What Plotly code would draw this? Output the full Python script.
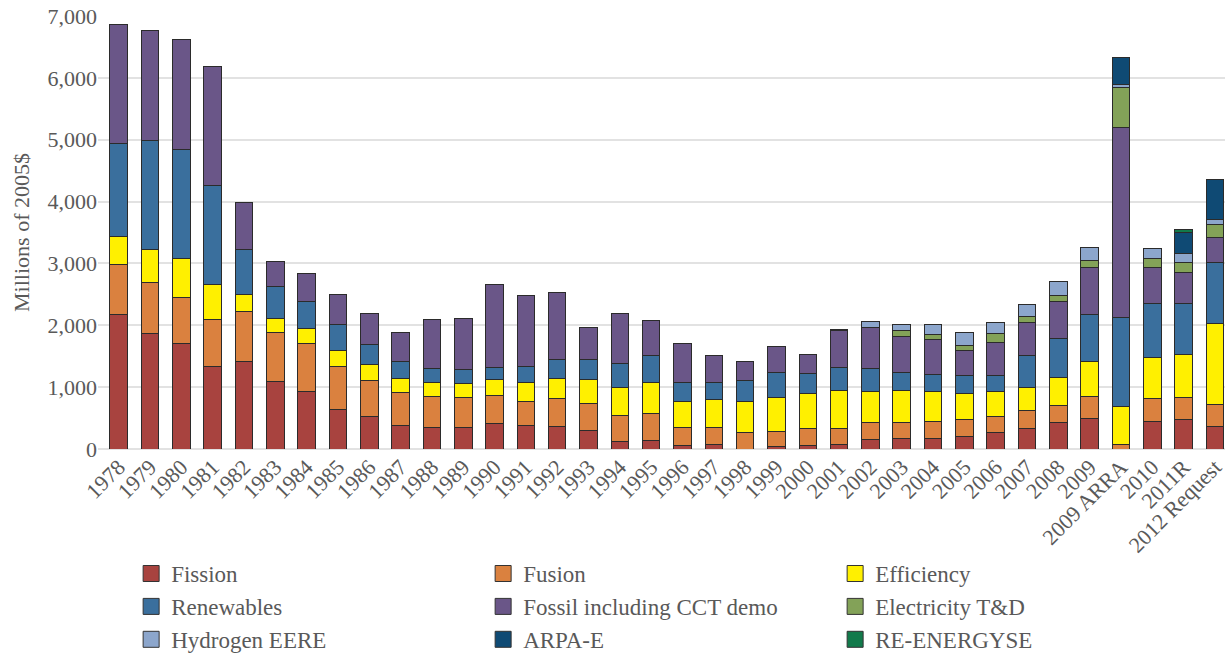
import plotly.graph_objects as go

years = ["1978", "1979", "1980", "1981", "1982", "1983", "1984", "1985", "1986", "1987",
         "1988", "1989", "1990", "1991", "1992", "1993", "1994", "1995", "1996", "1997",
         "1998", "1999", "2000", "2001", "2002", "2003", "2004", "2005", "2006", "2007",
         "2008", "2009", "2009 ARRA", "2010", "2011R", "2012 Request"]

fission = [2170, 1870, 1705, 1335, 1415, 1085, 930, 645, 530, 387,
           355, 340, 415, 380, 370, 305, 125, 140, 50, 70,
           0, 35, 55, 70, 155, 165, 175, 210, 265, 325,
           430, 495, 0, 445, 485, 365]
fusion = [820, 820, 750, 760, 805, 795, 780, 690, 570, 520,
          495, 495, 445, 390, 445, 430, 410, 430, 290, 275,
          263, 240, 270, 265, 270, 260, 265, 275, 265, 300,
          270, 355, 75, 375, 340, 355]
efficiency = [440, 530, 620, 565, 275, 225, 245, 265, 260, 230,
              225, 220, 260, 300, 320, 395, 465, 510, 430, 460,
              500, 565, 570, 615, 505, 515, 495, 415, 405, 375,
              460, 565, 605, 665, 695, 1305]
renewables = [1510, 1775, 1770, 1600, 730, 525, 430, 415, 335, 280,
              225, 230, 190, 270, 310, 320, 390, 435, 305, 275,
              345, 400, 325, 375, 375, 300, 270, 285, 260, 510,
              630, 760, 1440, 860, 825, 995]
fossil = [1920, 1775, 1780, 1925, 765, 395, 450, 480, 500, 465,
          790, 820, 1345, 1135, 1085, 515, 805, 560, 630, 425,
          310, 410, 315, 585, 665, 580, 560, 400, 530, 540,
          595, 765, 3070, 585, 510, 400]
electricity_td = [0, 0, 0, 0, 0, 0, 0, 0, 0, 0,
                  0, 0, 0, 0, 0, 0, 0, 0, 0, 0,
                  0, 0, 0, 0, 0, 90, 85, 90, 150, 85,
                  95, 115, 655, 155, 160, 210]
hydrogen = [0, 0, 0, 0, 0, 0, 0, 0, 0, 0,
            0, 0, 0, 0, 0, 0, 0, 0, 0, 0,
            0, 0, 0, 30, 90, 105, 160, 205, 165, 205,
            230, 195, 45, 155, 145, 85]
arpa_e = [0] * 32 + [440, 0, 340, 645]
re_energyse = [0] * 34 + [55, 0]

series = [
    ("Fission", fission, "#A8433F"),
    ("Fusion", fusion, "#DA813F"),
    ("Efficiency", efficiency, "#FFF000"),
    ("Renewables", renewables, "#3A6F9D"),
    ("Fossil including CCT demo", fossil, "#6A5688"),
    ("Electricity T&D", electricity_td, "#83A258"),
    ("Hydrogen EERE", hydrogen, "#8CA6CC"),
    ("ARPA-E", arpa_e, "#0F4A74"),
    ("RE-ENERGYSE", re_energyse, "#127A4B"),
]
legend_order = ["Fission", "Fusion", "Efficiency",
                "Renewables", "Fossil including CCT demo", "Electricity T&D",
                "Hydrogen EERE", "ARPA-E", "RE-ENERGYSE"]

FONT = "Liberation Serif"
GRAY = "#595959"

fig = go.Figure()
for name, vals, col in series:
    fig.add_trace(go.Bar(
        x=years, y=vals, name=name, showlegend=False,
        marker=dict(color=col, line=dict(color="#2b2b2b", width=1)),
    ))

colors = {n: c for n, _, c in series}
for i, name in enumerate(legend_order):
    fig.add_trace(go.Scatter(
        x=[None], y=[None], mode="markers", name=name, legendrank=i,
        marker=dict(symbol="square", size=16, color=colors[name],
                    line=dict(color="#333333", width=1)),
    ))

fig.update_layout(
    barmode="stack",
    bargap=0.44,
    width=1225, height=656,
    margin=dict(l=98, r=0, t=16, b=207, autoexpand=False),
    plot_bgcolor="white", paper_bgcolor="white",
    font=dict(family=FONT, color=GRAY, size=22),
    xaxis=dict(
        type="category", range=[-0.66, 35.32], tickangle=-45,
        tickfont=dict(family=FONT, size=22, color=GRAY),
        showgrid=False, showline=False, ticks="", automargin=False,
    ),
    yaxis=dict(
        range=[0, 7000], tickvals=[0, 1000, 2000, 3000, 4000, 5000, 6000, 7000],
        tickformat=",d", tickfont=dict(family=FONT, size=22, color=GRAY),
        ticklabeloverflow="allow",
        showgrid=True, gridcolor="#e2e2e2", gridwidth=1.5,
        zeroline=True, zerolinecolor="#e2e2e2", zerolinewidth=2,
        title=dict(text="Millions of 2005$", font=dict(family=FONT, size=22, color=GRAY), standoff=11),
        automargin=False, ticks="",
    ),
    legend=dict(
        orientation="h", x=0.0294, xanchor="left", y=-0.238, yanchor="top",
        entrywidth=307, entrywidthmode="pixels", traceorder="normal",
        font=dict(family=FONT, size=23, color=GRAY), itemsizing="trace",
        bgcolor="rgba(0,0,0,0)",
    ),
)

fig.write_html(
    "out.html",
    config=dict(displayModeBar=False),
    post_script="document.body.style.margin='0';document.body.style.overflow='hidden';",
)
